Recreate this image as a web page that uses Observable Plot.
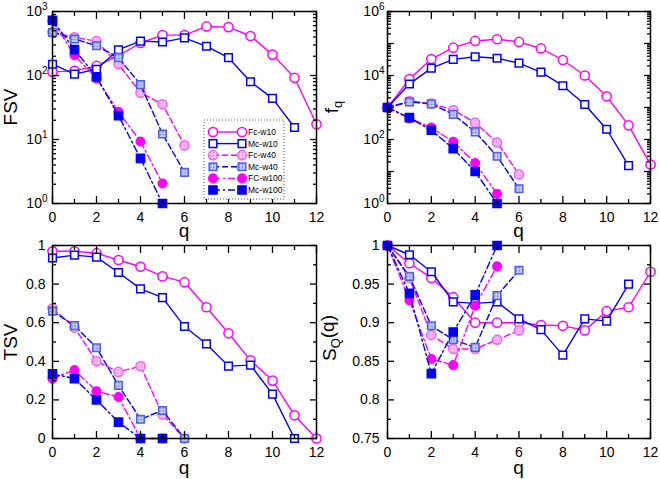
<!DOCTYPE html>
<html><head><meta charset="utf-8">
<script src="https://cdn.jsdelivr.net/npm/d3@7"></script>
<script src="https://cdn.jsdelivr.net/npm/@observablehq/plot@0.6"></script>
<style>
body{margin:0;background:#fff}
#wrap{position:relative;width:660px;height:479px;overflow:hidden;background:#fff;font-family:"Liberation Sans",Arial,sans-serif}
.panel{position:absolute}
</style></head><body>
<svg width="0" height="0" style="position:absolute"><defs>
<pattern id="patFc" width="3" height="3" patternUnits="userSpaceOnUse"><rect width="3" height="3" fill="#f7c4f7"/><rect width="1.2" height="1.2" fill="#e25ae2"/></pattern>
<pattern id="patMc" width="3" height="3" patternUnits="userSpaceOnUse"><rect width="3" height="3" fill="#c4caf4"/><rect width="1.2" height="1.2" fill="#5566dd"/></pattern>
</defs></svg>
<div id="wrap">
  <div class="panel" id="p1" style="left:0;top:0"></div>
  <div class="panel" id="p2" style="left:330px;top:0"></div>
  <div class="panel" id="p3" style="left:0;top:240px"></div>
  <div class="panel" id="p4" style="left:330px;top:240px"></div>
</div>
<script>
// ---------- data ----------
const q = [0,1,2,3,4,5,6,7,8,9,10,11,12];
const seriesNames = ["Fc-w10","Mc-w10","Fc-w40","Mc-w40","FC-w100","Mc-w100"];

// FSV
const fsvFcW10  = [114,118,141,205,322,428,428,584,570,414,212,92,17.3];
const fsvMcW10  = [150,105,125,253,345,333,388,286,190,80,44,15.4];
const fsvFcW40  = [476,394,345,150,54,35.5,8.1];
const fsvMcW40  = [470,372,292,190,72,12.2,3.07];
const fsvFcW100 = [720,207,90,27,9.3,2.05];
const fsvMcW100 = [730,254,95,23.6,5.07,1];

// f_q
const fqFcW10  = [1000,7700,32700,74000,120000,136000,112000,70000,30500,10000,2240,277,16.5];
const fqMcW10  = [1000,5400,17000,32000,38500,34700,24300,12700,4800,1240,209,15.3];
const fqFcW40  = [1000,1580,1330,830,335,81,8.1];
const fqMcW40  = [1000,1500,1300,610,173,30,2.9];
const fqFcW100 = [1000,458,235,85,18.5,2.0];
const fqMcW100 = [1000,480,195,52,10,1];

// TSV
const tsvFcW10  = [0.97,0.97,0.96,0.925,0.89,0.84,0.81,0.68,0.545,0.405,0.30,0.12,0];
const tsvMcW10  = [0.935,0.95,0.94,0.86,0.775,0.73,0.58,0.49,0.375,0.38,0.23,0];
const tsvFcW40  = [0.675,0.575,0.40,0.345,0.375,0.125,0];
const tsvMcW40  = [0.66,0.585,0.47,0.275,0.10,0.145,0];
const tsvFcW100 = [0.31,0.355,0.245,0.215,0,0];
const tsvMcW100 = [0.335,0.31,0.20,0.085,0,0];

// S_Q(q)
const sqFcW10  = [1,0.977,0.958,0.933,0.90,0.90,0.90,0.897,0.896,0.89,0.915,0.92,0.966];
const sqMcW10  = [1,0.988,0.966,0.927,0.925,0.927,0.905,0.891,0.858,0.905,0.902,0.95];
const sqFcW40  = [1,0.958,0.884,0.866,0.866,0.878,0.89];
const sqMcW40  = [1,0.96,0.896,0.878,0.868,0.935,0.968];
const sqFcW100 = [1,0.929,0.853,0.845,0.922,0.973];
const sqMcW100 = [1,0.938,0.834,0.888,0.936,1];

// tick values
const xMajor = [0,2,4,6,8,10,12];
const xMinor = [1,3,5,7,9,11];
const fsvMajor = [1,10,100,1000];
const fqMajor = [1,10,100,1000,10000,100000,1000000];
const fqLabels = [1,100,10000,1000000];
const tsvMajor = [0,0.2,0.4,0.6,0.8,1];
const tsvMinor = [0.1,0.3,0.5,0.7,0.9];
const sqMajor = [0.75,0.8,0.85,0.9,0.95,1];
const sqMinor = [0.775,0.825,0.875,0.925,0.975];

// ---------- styles ----------
const styles = [
  {stroke:"#ff00ff", dash:null,      symbol:"circle", fill:"white",        mstroke:"#ff00ff", r:4.6},
  {stroke:"#0000ff", dash:null,      symbol:"square", fill:"white",        mstroke:"#0000ff", r:4.3},
  {stroke:"#ff00ff", dash:"6,3",     symbol:"circle", fill:"url(#patFc)",  mstroke:"#ee66ee", r:4.6},
  {stroke:"#0000ff", dash:"6,3",     symbol:"square", fill:"url(#patMc)",  mstroke:"#4d60e6", r:4.3},
  {stroke:"#ff00ff", dash:"7,3,2,3", symbol:"circle", fill:"#ff00ff",      mstroke:"#ff00ff", r:4.3},
  {stroke:"#0000ff", dash:"7,3,2,3", symbol:"square", fill:"#0000ff",      mstroke:"#0000ff", r:4.6}
];

function minorLog(maxExp){
  const out=[];
  for(let e=0;e<maxExp;e++) for(let m=2;m<=9;m++) out.push(m*Math.pow(10,e));
  return out;
}
function fmtNum(d){ return String(+d.toFixed(3)); }

function makePanel(cfg){
  const marks = [];
  const tk = {tickFormat: () => "", label: null};
  cfg.series.forEach((vals,i)=>{
    const st = styles[i];
    const rows = vals.map((v,j)=>({q:q[j], v}));
    marks.push(Plot.line(rows,{x:"q", y:"v", stroke:st.stroke, strokeWidth:1.4, strokeDasharray:st.dash}));
    marks.push(Plot.dot(rows,{x:"q", y:"v", symbol:st.symbol, r:st.r, fill:st.fill, fillOpacity:1, stroke:st.mstroke, strokeWidth:1.5}));
  });
  marks.push(Plot.frame({stroke:"black", strokeWidth:1.5}));
  for (const a of ["bottom","top"]) {
    marks.push(Plot.axisX(xMajor,{anchor:a, tickSize:-7, strokeWidth:1.3, ...tk}));
    marks.push(Plot.axisX(xMinor,{anchor:a, tickSize:-4, strokeWidth:1.3, ...tk}));
  }
  for (const a of ["left","right"]) {
    marks.push(Plot.axisY(cfg.yMajor,{anchor:a, tickSize:-7, strokeWidth:1.3, ...tk}));
    marks.push(Plot.axisY(cfg.yMinor,{anchor:a, tickSize:-4, strokeWidth:1.3, ...tk}));
  }
  marks.push(Plot.axisX(xMajor,{anchor:"bottom", tickSize:0, tickPadding:9, fontSize:14, label:null, tickFormat:d=>String(d)}));
  marks.push(Plot.axisY(cfg.yLabels,{anchor:"left", tickSize:0, tickPadding:cfg.yPad, fontSize:14, label:null, tickFormat:cfg.yFmt}));

  const svg = Plot.plot({
    width:330, height:cfg.height,
    marginTop:cfg.mt, marginBottom:cfg.mb, marginLeft:cfg.ml, marginRight:cfg.mr,
    style:{fontFamily:'"Liberation Sans", Arial, sans-serif', fontSize:"14px", background:"transparent", overflow:"visible", color:"black"},
    x:{domain:[0,12]},
    y:cfg.y,
    marks
  });
  const s = d3.select(svg);
  s.selectAll('g[aria-label="y-axis tick label"] text').each(function(){
    const t = d3.select(this); const txt = t.text();
    if (txt.includes("^")) {
      const [b,e] = txt.split("^");
      t.text(null);
      t.append("tspan").text(b);
      t.append("tspan").attr("dy","-0.55em").attr("font-size","10px").text(e);
    }
  });
  s.append("text").attr("x", cfg.ml + (330-cfg.ml-cfg.mr)/2).attr("y", cfg.qy)
    .attr("text-anchor","middle").attr("font-size","19px").text("q");
  const yt = s.append("text").attr("text-anchor","middle").attr("font-size","19px")
    .attr("transform",`translate(${cfg.tx},${cfg.ty}) rotate(-90)`);
  cfg.title.forEach(([str,sub])=>{
    const sp = yt.append("tspan").text(str);
    if (sub) sp.attr("font-size","13px").attr("dy","0.3em");
    else sp.attr("dy", yt.selectAll("tspan").size()>1 ? "-0.3em" : null);
  });
  document.getElementById(cfg.el).appendChild(svg);
  return svg;
}

const expSup = d => "10^" + Math.round(Math.log10(d));

const svg1 = makePanel({el:"p1", height:240, mt:11, mb:37, ml:52, mr:14, qy:237, tx:17, ty:107,
  y:{type:"log", domain:[1,1000]}, yMajor:fsvMajor, yMinor:minorLog(3), yLabels:fsvMajor, yFmt:expSup, yPad:5,
  title:[["FSV",false]],
  series:[fsvFcW10,fsvMcW10,fsvFcW40,fsvMcW40,fsvFcW100,fsvMcW100]});

makePanel({el:"p2", height:240, mt:11, mb:37, ml:57, mr:10, qy:237, tx:8, ty:107,
  y:{type:"log", domain:[1,1000000]}, yMajor:fqMajor, yMinor:minorLog(6), yLabels:fqLabels, yFmt:expSup, yPad:3,
  title:[["f",false],["q",true]],
  series:[fqFcW10,fqMcW10,fqFcW40,fqMcW40,fqFcW100,fqMcW100]});

makePanel({el:"p3", height:239, mt:5, mb:41, ml:52, mr:14, qy:234, tx:17, ty:102,
  y:{domain:[0,1]}, yMajor:tsvMajor, yMinor:tsvMinor, yLabels:tsvMajor, yFmt:fmtNum, yPad:7,
  title:[["TSV",false]],
  series:[tsvFcW10,tsvMcW10,tsvFcW40,tsvMcW40,tsvFcW100,tsvMcW100]});

makePanel({el:"p4", height:239, mt:5, mb:41, ml:57, mr:10, qy:234, tx:6, ty:98,
  y:{domain:[0.75,1]}, yMajor:sqMajor, yMinor:sqMinor, yLabels:sqMajor, yFmt:fmtNum, yPad:8,
  title:[["S",false],["Q",true],["(q)",false]],
  series:[sqFcW10,sqMcW10,sqFcW40,sqMcW40,sqFcW100,sqMcW100]});

// ---------- legend in panel 1 ----------
(function(){
  const lg = d3.select(svg1).append("g").attr("text-anchor","start");
  lg.append("rect").attr("x",204).attr("y",120).attr("width",80).attr("height",79)
    .attr("fill","white").attr("stroke","#555").attr("stroke-width",1).attr("stroke-dasharray","1,2");
  seriesNames.forEach((name,i)=>{
    const st = styles[i];
    const yy = 132 + i*11.6;
    lg.append("line").attr("x1",213).attr("x2",242).attr("y1",yy).attr("y2",yy)
      .attr("stroke",st.stroke).attr("stroke-width",1.4).attr("stroke-dasharray",st.dash);
    const sym = d3.symbol(st.symbol==="circle"?d3.symbolCircle:d3.symbolSquare, Math.PI*st.r*st.r);
    for (const xx of [213,242]) {
      lg.append("path").attr("d",sym()).attr("transform",`translate(${xx},${yy})`)
        .attr("fill",st.fill).attr("stroke",st.mstroke).attr("stroke-width",1.5);
    }
    lg.append("text").attr("x",248).attr("y",yy+3).attr("text-anchor","start").attr("font-size","8.5px").text(name);
  });
})();
</script>
</body></html>
